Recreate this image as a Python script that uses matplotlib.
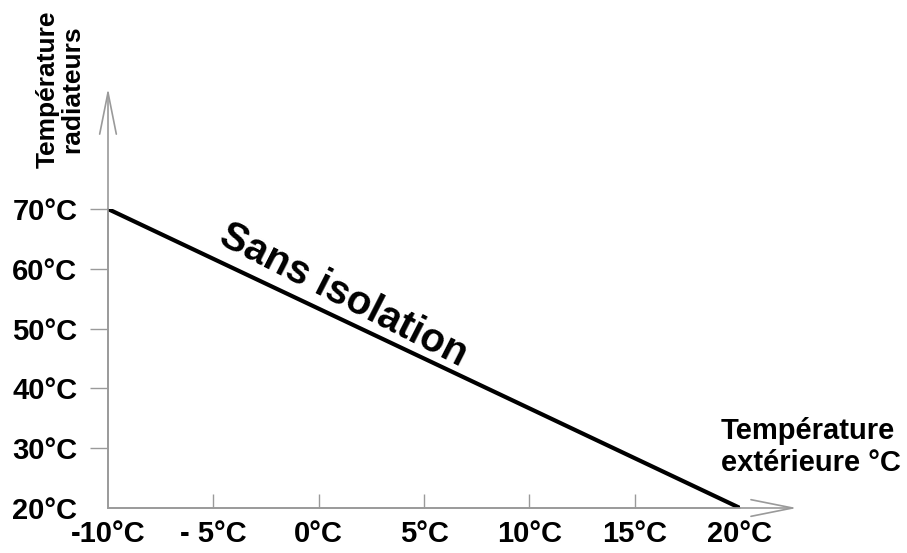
import matplotlib
matplotlib.use('Agg')
import matplotlib.pyplot as plt

# data
x_ext = [-10, 20]          # température extérieure (°C)
y_rad = [70, 20]           # température radiateurs (°C)
xticks = [-10, -5, 0, 5, 10, 15, 20]
xlabels = ['-10°C', '- 5°C', '0°C', '5°C', '10°C', '15°C', '20°C']
yticks = [20, 30, 40, 50, 60, 70]
ylabels = ['20°C', '30°C', '40°C', '50°C', '60°C', '70°C']
curve_label = 'Sans isolation'

plt.rcParams['font.family'] = ['Liberation Sans', 'DejaVu Sans']
grey = '#9a9a9a'

fig = plt.figure(figsize=(9.07, 5.53), dpi=100)
ax = fig.add_axes([108 / 907, 45 / 553, 632 / 907, 299 / 553])

ax.plot(x_ext, y_rad, color='black', lw=3.0, solid_capstyle='butt', zorder=3)
ax.set_xlim(-10, 20)
ax.set_ylim(20, 70)

for s in ['top', 'right']:
    ax.spines[s].set_visible(False)
for s in ['left', 'bottom']:
    ax.spines[s].set_color(grey)
    ax.spines[s].set_linewidth(1.2)

# labels on major ticks (no marks), marks on minor ticks
ax.xaxis.remove_overlapping_locs = False
ax.yaxis.remove_overlapping_locs = False
ax.set_xticks(xticks)
ax.set_xticklabels(xlabels, fontsize=21, fontweight='bold')
ax.set_yticks(yticks)
ax.set_yticklabels(ylabels, fontsize=21, fontweight='bold')
ax.tick_params(axis='both', which='major', length=0)
ax.tick_params(axis='x', which='major', pad=9)
ax.tick_params(axis='y', which='major', pad=22)
ax.set_xticks(xticks[1:-1], minor=True)
ax.set_yticks(yticks[1:], minor=True)
ax.tick_params(axis='x', which='minor', direction='in', length=10, width=1, color=grey)
ax.tick_params(axis='y', which='minor', direction='out', length=13, width=1, color=grey)

# axis arrows
arrow = dict(arrowstyle='->,head_length=3.0,head_width=0.6', color=grey, lw=1.2,
             mutation_scale=10, shrinkA=0, shrinkB=0)
ax.annotate('', xy=(22.7, 20), xytext=(-10, 20), arrowprops=arrow,
            annotation_clip=False)
ax.annotate('', xy=(-10, 90.2), xytext=(-10, 20), arrowprops=arrow,
            annotation_clip=False)

ax.text(1.2, 55.6, curve_label, rotation=-27, fontsize=29, fontweight='bold',
        ha='center', va='center', rotation_mode='anchor')

fig.text(60 / 907, 1 - 89 / 553, 'Température\nradiateurs', rotation=90,
         fontsize=19, fontweight='bold', ha='center', va='center',
         multialignment='center', linespacing=1.0)
fig.text(811 / 907, 1 - 447 / 553, 'Température\nextérieure °C',
         fontsize=21, fontweight='bold', ha='center', va='center',
         multialignment='left', linespacing=1.2)

fig.savefig('out.png', dpi=100)
